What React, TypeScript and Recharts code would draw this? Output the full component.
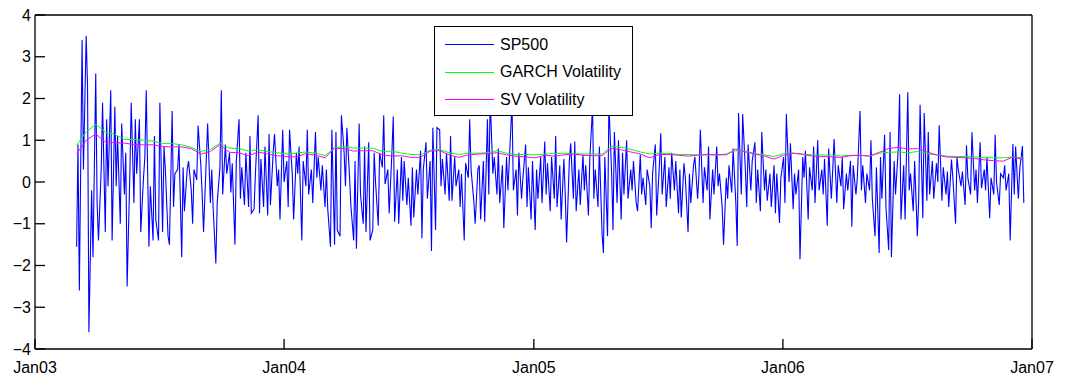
import React from "react";
import { LineChart, Line, XAxis, YAxis, Legend } from "recharts";

// daily SP500 returns (every second trading day)
const sp500 = [
  -1.55, 0.9, -2.6, 3.4, 0.3, 3.5, 2.3, -3.6, -0.2, -1.8,
  2.6, -0.5, -1.4, 0.3, 1.9, -1.2, 1.5, -0.1, 2.2, -1.4,
  1.8, -0.1, 1.1, -1.0, 1.4, -0.3, 0.7, -2.5, 0.2, 1.9,
  -0.5, 1.5, 0.2, 1.5, -1.2, 0.1, 0.6, 2.2, -1.55, -0.1,
  -1.4, 1.1, -0.9, -1.4, 1.9, -1.2, 0.85, 0.3, -1.3, -1.5,
  1.7, -0.6, 0.2, 0.3, 0.9, -1.8, 0.35, -0.7, 0.3, 0.5,
  -0.2, -1.0, 0.3, 0.05, 1.35, 0.4, -0.3, -1.2, 0.55, 1.4,
  -0.5,
  0.3, -0.6, -1.95, -0.5, 0.35, 2.2, -0.3, 0.9, 0.2, 0.7,
  -0.25, 0.45, -1.5, 0.5, 1.5, -0.4, 0.35, -0.55, 0.7, -0.6,
  1.1, -0.75, -0.65, 0.2, 1.6, -0.75, 0.55, -0.6, 0.85, -0.8,
  1.15, -0.55, 0.7, 1.15, -0.1, 0.3, -0.9, 1.25, 0.0, 0.5,
  -0.6, 1.25, 0.2, -0.9, 0.7, 0.2, 0.85, -1.4, 0.5, -0.1,
  1.25, -0.3, 0.3, -0.5, 1.2, 0.1, 0.6, -0.2, 0.4, -0.6,
  0.3, -0.65, -1.55, 1.25, -1.5, 1.2, -1.15, -1.3, 1.6, 0.7,
  -0.1, 1.3, 0.1,
  -0.6, -1.4, 0.5, -1.6, 1.4, -0.3, -1.0, 0.85, -1.2, 0.95,
  -1.4, -1.15, 0.7, 0.0, -1.05, 0.7, 0.35, 1.6, -0.05, 0.3,
  -0.75, 0.7, 1.57, -0.95, 0.3, -1.0, 0.6, -0.45, 0.5, -0.55,
  0.1, -1.05, 0.35, -0.85, 0.3, -0.3, 0.75, -1.35, 0.3, 0.95,
  -0.4, 0.5, -1.65, 1.3, -1.15, 1.3, 1.25, -0.1, 0.55, -0.3,
  0.7, -0.45, 1.1, -0.45, 0.6, -0.1, 0.3, -0.6, 0.2, -1.4,
  0.45, 0.1, 1.5, 0.3, -0.45, -1.0, 0.3, 0.4, -0.9, 0.5,
  -0.95, 1.5,
  -0.3, 2.0, 0.2, 0.6, -0.3, 0.8, -0.5, 0.4, -1.1, 0.6,
  -0.2, 0.5, 1.9, -0.2, 0.3, -0.8, 0.7, -0.4, 0.1, 0.9,
  -0.6, 0.35, -0.9, 0.5, -1.15, 0.3, -0.4, 0.6, -0.5, 0.97,
  -0.3, 0.45, -0.7, 0.6, -0.4, 1.1, -0.6, 0.4, -0.9, 0.55,
  -0.3, -1.45, 0.5, 0.93, -0.4, 0.97, -0.7, 0.3, -0.55, 0.65,
  -0.2, 0.4, -0.8, 0.55, 1.8, -0.4, 0.3, -0.6, 0.85, -1.25,
  -1.7, 0.6, -1.3, 1.9, 0.2, -1.15, 1.2, -0.5, 1.0, -0.9,
  0.7, -0.3,
  1.0, -0.4, 0.3, -0.2, 0.5, -0.5, -0.7, 0.65, -0.3, 0.1,
  -0.55, 0.3, -0.1, -1.1, 0.2, 0.9, -0.8, 0.4, 1.17, -0.3,
  0.6, -0.6, 0.35, -0.4, 0.7, -0.2, 0.5, -0.75, 0.3, -0.85,
  0.45, 0.1, -1.2, 0.2, -0.5, 0.4, 0.6, -0.4, 0.2, 1.25,
  -0.5, 0.35, -0.2, 0.85, -0.9, 0.3, -0.3, 0.85, -0.1, 0.2,
  -0.6, -1.5, 0.1, -0.4, 0.4, -0.25, 0.8, -0.5, -1.53, 1.65,
  -0.3, 1.63, 0.3, -0.6, 0.9, -0.2, 0.5, 0.95, -0.5, 0.3,
  -0.7, 1.2,
  -0.2, 0.3, -0.45, 0.2, -0.6, 0.4, -0.75, 0.2, -0.98, 0.1,
  0.6, -0.5, 1.63, 0.0, 0.93, -0.65, 0.2, -0.3, 0.3, -1.85,
  0.6, 0.1, 0.75, -0.9, 0.35, -0.2, 0.85, -0.5, 1.0, -0.2,
  0.3, -0.3, 0.55, -1.05, 0.8, -0.4, 0.3, 1.03, -0.5, 0.4,
  -0.1, 0.6, -0.65, 0.2, -0.2, 0.5, -1.07, 0.4, -0.3, 0.1,
  1.7, -0.2, 0.4, -0.5, 0.2, -0.2, 1.0, -0.4, -1.3, 0.35,
  -1.7, 0.6, -0.4, 1.13, -0.6, -1.63, 1.2, -1.8, 0.5, -0.3,
  0.8, 2.1, -0.9,
  0.4, -0.9, 2.15, -0.2, 0.2, -0.7, 0.5, -1.3, -0.4, 1.85,
  -0.87, 1.65, -0.45, 1.2, -0.3, 0.5, -0.4, 0.45, 0.0, 1.36,
  -0.45, 0.35, -0.3, 0.25, -0.6, 0.54, 0.1, -1.0, 0.6, 0.3,
  -0.1, 0.25, -0.55, 0.88, 0.1, -0.3, 1.19, -0.2, 0.3, -0.5,
  0.95, -0.15, 0.3, -0.2, 0.6, -0.87, 0.1, -0.3, 1.13, 0.0,
  -0.55, 0.2, 0.1, 0.4, -0.2, 0.2, -1.4, 0.91, -0.3, 0.85,
  -0.4, 0.3, 0.86, -0.5,
];

// volatility estimates, one value every 5th point of sp500
const garch = [
  0.88, 1.2, 1.38, 1.2, 1.14, 1.02, 1.02, 1.0, 0.98, 0.92,
  0.92, 0.89, 0.83, 0.73, 0.78, 0.93, 0.81, 0.8, 0.74, 0.77,
  0.73, 0.7, 0.67, 0.69, 0.72, 0.69, 0.63, 0.82, 0.85, 0.81,
  0.81, 0.81, 0.73, 0.74, 0.69, 0.66, 0.65, 0.76, 0.78, 0.7,
  0.66, 0.69, 0.69, 0.7, 0.75, 0.69, 0.66, 0.66, 0.65, 0.67,
  0.68, 0.69, 0.68, 0.67, 0.67, 0.67, 0.86, 0.83, 0.78, 0.72,
  0.67, 0.69, 0.68, 0.66, 0.66, 0.65, 0.65, 0.65, 0.67, 0.75,
  0.74, 0.68, 0.65, 0.61, 0.68, 0.69, 0.67, 0.65, 0.65, 0.64,
  0.62, 0.64, 0.64, 0.62, 0.69, 0.71, 0.72, 0.7, 0.73, 0.68,
  0.65, 0.62, 0.61, 0.61, 0.6, 0.58, 0.58, 0.58, 0.6, 0.58,
];

const sv = [
  0.67, 1.0, 1.15, 0.96, 0.94, 0.93, 0.9, 0.89, 0.89, 0.85,
  0.84, 0.84, 0.8, 0.67, 0.73, 0.89, 0.71, 0.7, 0.63, 0.72,
  0.67, 0.63, 0.61, 0.6, 0.68, 0.64, 0.58, 0.81, 0.8, 0.74,
  0.75, 0.75, 0.65, 0.62, 0.63, 0.59, 0.59, 0.74, 0.75, 0.65,
  0.59, 0.65, 0.67, 0.68, 0.7, 0.65, 0.62, 0.6, 0.58, 0.64,
  0.62, 0.65, 0.67, 0.64, 0.63, 0.63, 0.81, 0.77, 0.72, 0.67,
  0.58, 0.66, 0.66, 0.64, 0.62, 0.64, 0.66, 0.65, 0.65, 0.79,
  0.72, 0.67, 0.62, 0.55, 0.64, 0.69, 0.66, 0.62, 0.61, 0.6,
  0.59, 0.63, 0.64, 0.62, 0.71, 0.8, 0.83, 0.79, 0.8, 0.72,
  0.65, 0.6, 0.59, 0.58, 0.56, 0.53, 0.51, 0.5, 0.6, 0.54,
];

const VOL_EVERY = 5;
const seriesNames = ["SP500", "GARCH Volatility", "SV Volatility"];
const yearTicks = [2003, 2004, 2005, 2006, 2007];
const yTicks = [-4, -3, -2, -1, 0, 1, 2, 3, 4];

const FONT = "'Liberation Sans', Arial, Helvetica, sans-serif";
const DAY = 86400000;

// every second weekday starting 3 Mar 2003
function tradingDates(n: number): number[] {
  const out: number[] = [];
  let t = Date.UTC(2003, 2, 3);
  let count = 0;
  while (out.length < n) {
    const wd = new Date(t).getUTCDay();
    if (wd !== 0 && wd !== 6) {
      if (count % 2 === 0) out.push(t);
      count++;
    }
    t += DAY;
  }
  return out;
}

const dates = tradingDates(sp500.length);
const data = sp500.map((v, i) => ({
  t: dates[i],
  sp500: v,
  garch: i % VOL_EVERY === 0 ? garch[i / VOL_EVERY] : undefined,
  sv: i % VOL_EVERY === 0 ? sv[i / VOL_EVERY] : undefined,
}));

const xTicks = yearTicks.map((y) => Date.UTC(y, 0, 1));
const fmtX = (t: number) => "Jan" + String(new Date(t).getUTCFullYear()).slice(2);
const fmtY = (v: number) => (v < 0 ? "\u2212" + Math.abs(v) : String(v));

const tickStyle = { fontSize: 16, fill: "#000", fontFamily: FONT };
const lineStyle = { stroke: "#000", strokeWidth: 1.3 };

const LegendBox = (props: any) => {
  const payload = [...(props.payload || [])].sort(
    (a: any, b: any) => seriesNames.indexOf(a.value) - seriesNames.indexOf(b.value)
  );
  return (
    <div
      style={{
        width: 199,
        height: 90,
        boxSizing: "border-box",
        border: "1px solid #000",
        background: "#fff",
        paddingTop: 4,
        paddingLeft: 10,
        fontFamily: FONT,
        fontSize: 16,
        color: "#000",
      }}
    >
      {payload.map((p: any) => (
        <div key={p.value} style={{ display: "flex", alignItems: "center", height: 27.6 }}>
          <span
            style={{
              display: "inline-block",
              width: 49,
              height: 0,
              borderTop: `1px solid ${p.color}`,
              marginRight: 6,
            }}
          />
          <span>{p.value}</span>
        </div>
      ))}
    </div>
  );
};

export default function App() {
  return (
    <div style={{ position: "absolute", left: 0, top: 0, background: "#fff" }}>
      <LineChart width={1067} height={382} data={data} margin={{ top: 0, right: 0, bottom: 0, left: 0 }}>
        <XAxis
          dataKey="t"
          type="number"
          domain={[xTicks[0], xTicks[xTicks.length - 1]]}
          ticks={xTicks}
          tickFormatter={fmtX}
          interval={0}
          height={33}
          tickSize={-10}
          tickMargin={23}
          tick={tickStyle}
          axisLine={lineStyle}
          tickLine={lineStyle}
          allowDataOverflow
        />
        <XAxis
          xAxisId="top"
          orientation="top"
          dataKey="t"
          type="number"
          domain={[xTicks[0], xTicks[xTicks.length - 1]]}
          ticks={xTicks}
          interval={0}
          height={15}
          tickSize={-10}
          tick={false}
          axisLine={lineStyle}
          tickLine={lineStyle}
          allowDataOverflow
        />
        <YAxis
          type="number"
          domain={[-4, 4]}
          ticks={yTicks}
          tickFormatter={fmtY}
          interval={0}
          width={35}
          tickSize={-10}
          tickMargin={14}
          tick={tickStyle}
          axisLine={lineStyle}
          tickLine={lineStyle}
          allowDataOverflow
        />
        <YAxis
          yAxisId="right"
          orientation="right"
          type="number"
          domain={[-4, 4]}
          ticks={yTicks}
          interval={0}
          width={35}
          tickSize={-10}
          tick={false}
          axisLine={lineStyle}
          tickLine={lineStyle}
          allowDataOverflow
        />
        <Line
          name={seriesNames[0]}
          dataKey="sp500"
          stroke="#0000ff"
          strokeWidth={1.1}
          dot={false}
          isAnimationActive={false}
        />
        <Line
          name={seriesNames[1]}
          dataKey="garch"
          stroke="#00ff00"
          strokeWidth={1}
          dot={false}
          connectNulls
          isAnimationActive={false}
        />
        <Line
          name={seriesNames[2]}
          dataKey="sv"
          stroke="#ff00ff"
          strokeWidth={1}
          dot={false}
          connectNulls
          isAnimationActive={false}
        />
        <Legend
          layout="vertical"
          align="center"
          verticalAlign="middle"
          content={<LegendBox />}
          wrapperStyle={{ left: 434, top: 26, width: 199, height: 90 }}
        />
      </LineChart>
    </div>
  );
}
